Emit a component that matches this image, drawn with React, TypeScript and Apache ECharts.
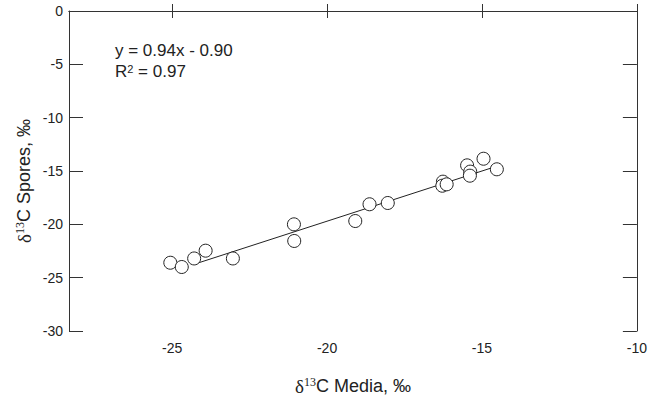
import React, { useEffect, useRef } from "react";
import * as echarts from "echarts";

const mediaValues = [-25.06, -24.69, -24.29, -23.92, -23.04, -21.07, -21.06, -19.09, -18.63, -18.04, -16.26, -16.28, -16.14, -15.48, -15.38, -15.39, -14.95, -14.52];
const sporeValues = [-23.6, -24.0, -23.2, -22.47, -23.2, -20.0, -21.56, -19.69, -18.12, -18.0, -16.0, -16.38, -16.25, -14.47, -15.06, -15.44, -13.85, -14.84];
const fitX = [-24.3, -14.5];
const fitY = [-23.75, -14.53];
const xTicks = [-25, -20, -15, -10];
const equationText = "y = 0.94x - 0.90";
const r2Value = "0.97";
const xName = "C Media, ‰";
const yName = "C Spores, ‰";

const FONT = "'Liberation Sans', Arial, Helvetica, sans-serif";
const SERIF = "'Liberation Serif', 'DejaVu Serif', serif";
const AX = "#333";
const TXT = "#222";

export default function App() {
  const ref = useRef<HTMLDivElement>(null);
  useEffect(() => {
    if (!ref.current) return;
    const chart = echarts.init(ref.current, null, { renderer: "svg" });
    const points = mediaValues.map((x, i) => [x, sporeValues[i]]);
    const fit = fitX.map((x, i) => [x, fitY[i]]);
    const nameRich = {
      base: { fontSize: 18, fontFamily: FONT, color: TXT, lineHeight: 20 },
      sup: { fontSize: 12, fontFamily: SERIF, color: TXT, verticalAlign: "top", lineHeight: 20 },
      delta: { fontSize: 19, fontFamily: SERIF, color: TXT, lineHeight: 20 },
    };
    const graphicRich = {
      base: { fontSize: 18, fontFamily: FONT, fill: TXT, lineHeight: 20 },
      sup: { fontSize: 12, fontFamily: SERIF, fill: TXT, verticalAlign: "top", lineHeight: 20 },
      delta: { fontSize: 19, fontFamily: SERIF, fill: TXT, lineHeight: 20 },
    };
    chart.setOption({
      animation: false,
      grid: { left: 69, right: 9, top: 11, bottom: 71 },
      xAxis: [
        {
          type: "value",
          min: -28.33,
          max: -10,
          position: "bottom",
          splitLine: { show: false },
          axisLine: { show: true, lineStyle: { color: AX, width: 1 } },
          axisTick: { show: true, inside: true, length: 7, customValues: xTicks, lineStyle: { color: AX } },
          axisLabel: { show: true, customValues: xTicks, margin: 10, fontSize: 14, fontFamily: FONT, color: TXT, formatter: (v: number) => String(v) },
          name: "{delta|δ}{sup|13}{base|" + xName + "}",
          nameLocation: "middle",
          nameGap: 45,
          nameTextStyle: { rich: nameRich },
        },
        {
          type: "value",
          min: -28.33,
          max: -10,
          position: "top",
          splitLine: { show: false },
          axisLine: { show: true, lineStyle: { color: AX, width: 1 } },
          axisTick: { show: true, inside: true, length: 7, customValues: xTicks, lineStyle: { color: AX } },
          axisLabel: { show: false },
        },
      ],
      yAxis: [
        {
          type: "value",
          min: -30,
          max: 0,
          interval: 5,
          position: "left",
          splitLine: { show: false },
          axisLine: { show: true, lineStyle: { color: AX, width: 1 } },
          axisTick: { show: true, inside: true, length: 14, lineStyle: { color: AX } },
          axisLabel: { show: true, margin: 6, fontSize: 14, fontFamily: FONT, color: TXT },
        },
        {
          type: "value",
          min: -30,
          max: 0,
          interval: 5,
          position: "right",
          splitLine: { show: false },
          axisLine: { show: true, lineStyle: { color: AX, width: 1 } },
          axisTick: { show: true, inside: true, length: 14, lineStyle: { color: AX } },
          axisLabel: { show: false },
        },
      ],
      series: [
        {
          type: "line",
          data: fit,
          symbol: "none",
          lineStyle: { color: TXT, width: 1 },
          z: 1,
        },
        {
          type: "scatter",
          data: points,
          symbol: "circle",
          symbolSize: 13,
          itemStyle: { color: "#fff", borderColor: TXT, borderWidth: 1, opacity: 1 },
          z: 2,
        },
      ],
      graphic: [
        {
          type: "text",
          left: 115,
          top: 42,
          style: { text: equationText, fontSize: 17, fontFamily: FONT, fill: TXT },
        },
        {
          type: "text",
          left: 115,
          top: 63,
          style: {
            text: "{base|R}{sup|2}{base| = " + r2Value + "}",
            rich: {
              base: { fontSize: 17, fontFamily: FONT, fill: TXT },
              sup: { fontSize: 11, fontFamily: FONT, fill: TXT, verticalAlign: "top" },
            },
          },
        },
        {
          type: "text",
          x: 24,
          y: 181,
          rotation: Math.PI / 2,
          style: {
            text: "{delta|δ}{sup|13}{base|" + yName + "}",
            align: "center",
            verticalAlign: "middle",
            rich: graphicRich,
          },
        },
      ],
    });
    return () => chart.dispose();
  }, []);
  return <div ref={ref} style={{ width: 650, height: 402, position: "absolute", left: 0, top: 0 }} />;
}
